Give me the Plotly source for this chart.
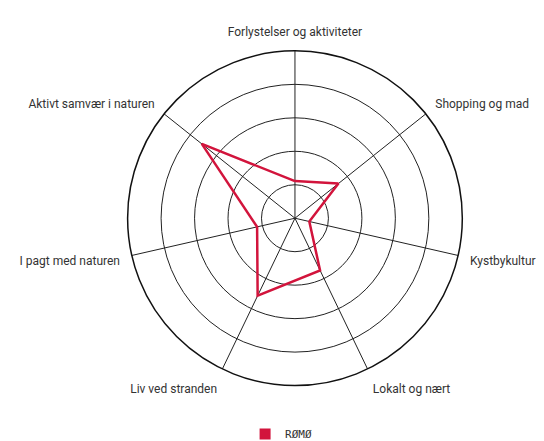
import plotly.graph_objects as go

categories = ["Forlystelser og aktiviteter", "Shopping og mad", "Kystbykultur",
              "Lokalt og nært", "Liv ved stranden", "I pagt med naturen",
              "Aktivt samvær i naturen"]
romo = [1.11, 1.66, 0.44, 1.73, 2.57, 1.16, 3.56]
series_name = "RØMØ"
red = "#d2143c"

fig = go.Figure()
# closed outline
fig.add_trace(go.Scatterpolar(
    r=romo + romo[:1], theta=categories + categories[:1],
    mode="lines", line=dict(color=red, width=2.5),
    showlegend=False, hoverinfo="skip"))
# legend entry with a square
fig.add_trace(go.Scatterpolar(
    r=[None], theta=[categories[0]], mode="markers", name=series_name,
    marker=dict(symbol="square", size=11, color=red)))

fig.update_layout(
    width=544, height=441,
    margin=dict(l=0, r=0, t=0, b=0),
    paper_bgcolor="white",
    font=dict(family="Roboto, sans-serif", size=12, color="#333333"),
    polar=dict(
        domain=dict(x=[0.214, 0.841], y=[0.128, 0.901]),
        bgcolor="white",
        angularaxis=dict(rotation=90, direction="clockwise",
                         linecolor="#111111", linewidth=1.5,
                         gridcolor="#222222", gridwidth=1,
                         ticks="outside", ticklen=9, tickcolor="rgba(0,0,0,0)"),
        radialaxis=dict(range=[0, 5], tickvals=[1, 2, 3, 4, 5],
                        showticklabels=False, ticks="", showline=False,
                        gridcolor="#222222", gridwidth=1),
    ),
    legend=dict(orientation="h", x=0.502, xanchor="center", y=0.016, yanchor="middle",
                font=dict(family="DejaVu Sans Mono", size=11, color="#333333")),
)

fig.write_html("out.html")
